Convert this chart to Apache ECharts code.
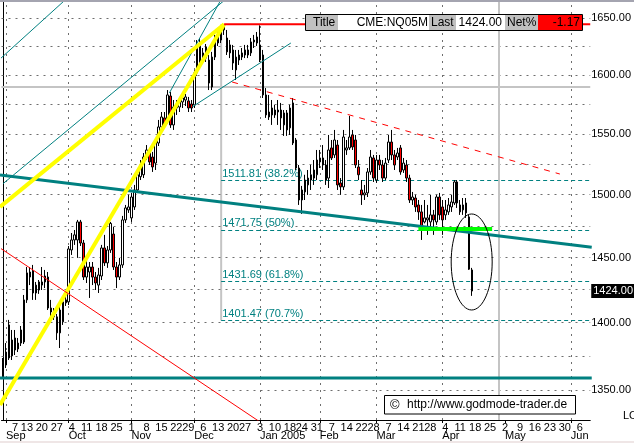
<!DOCTYPE html>
<html><head><meta charset="utf-8">
<script src="https://cdn.jsdelivr.net/npm/echarts@6/dist/echarts.min.js"></script>
<style>html,body{margin:0;padding:0;background:#fff;overflow:hidden}#c{width:634px;height:443px;background:#fff}</style>
</head><body><div id="c"></div>
<script>
const F = '"Liberation Sans", Arial, sans-serif';
// ---- calendar ----
const firstDay = '2004-08-31';
const holidays = ['2004-09-06','2004-11-25','2004-12-24','2005-01-17','2005-02-21','2005-03-25'];
const totalSlots = 197;
// ---- tick labels ----
const weekLabelDates = ['2004-09-07','2004-09-13','2004-09-20','2004-09-27','2004-10-04','2004-10-11','2004-10-18','2004-10-25','2004-11-01','2004-11-08','2004-11-15','2004-11-22','2004-11-29','2004-12-06','2004-12-13','2004-12-20','2004-12-27','2005-01-03','2005-01-10','2005-01-18','2005-01-24','2005-01-31','2005-02-07','2005-02-14','2005-02-22','2005-02-28','2005-03-07','2005-03-14','2005-03-21','2005-03-28','2005-04-04','2005-04-11','2005-04-18','2005-04-25','2005-05-02','2005-05-09','2005-05-16','2005-05-23','2005-05-30','2005-06-06'];
const monthLabelDates = ['2004-09-01','2004-10-01','2004-11-01','2004-12-01','2005-01-03','2005-02-01','2005-03-01','2005-04-01','2005-05-02','2005-06-01'];
const monthLabelTexts = ['Sep','Oct','Nov','Dec','Jan 2005','Feb','Mar','Apr','May','Jun'];
const monthGridDates = ['2004-09-01','2004-10-01','2004-11-01','2004-12-01','2005-01-03','2005-02-01','2005-03-01','2005-04-01','2005-06-01'];
const yLabelValues = [1350,1400,1450,1500,1550,1600,1650];
const yGridValues = [1350,1375,1400,1425,1450,1475,1500,1525,1550,1575,1600,1625,1650];
const yMin = 1328.3, yMax = 1664.3;
// ---- OHLC (Aug 31 2004 .. Apr 15 2005) ----
const opens = [1366.8,1368.3,1373.5,1386.9,1379.4,1384.6,1384.6,1385.4,1417.2,1434.8,
1439.5,1422.5,1424.8,1428.6,1431.0,1434.8,1408.0,1408.0,1404.3,1392.2,
1400.5,1414.9,1415.7,1455.9,1463.8,1463.8,1478.1,1461.4,1434.8,1438.7,
1442.6,1434.8,1428.6,1435.6,1457.5,1445.8,1455.9,1468.5,1442.6,1434.8,
1444.2,1479.7,1487.7,1481.3,1490.1,1503.8,1514.6,1516.2,1530.8,1534.1,
1530.8,1525.8,1542.4,1555.8,1563.4,1561.7,1582.0,1557.5,1571.8,1572.6,
1576.9,1578.6,1577.8,1575.2,1574.4,1601.8,1627.9,1613.0,1614.7,1613.0,
1589.7,1615.6,1627.9,1630.5,1639.4,1632.3,1626.2,1621.8,1604.4,1613.0,
1615.6,1617.4,1621.8,1619.2,1628.8,1627.9,1626.2,1617.4,1582.9,1568.4,
1565.9,1570.1,1568.4,1570.1,1557.5,1567.6,1555.0,1576.1,1544.9,1521.7,
1495.7,1502.2,1507.9,1511.9,1513.5,1516.2,1526.7,1530.0,1524.2,1513.5,
1538.3,1532.5,1540.7,1509.5,1506.3,1536.6,1538.3,1549.1,1544.9,1522.6,
1503.8,1499.8,1501.4,1518.5,1530.0,1511.9,1528.3,1524.2,1513.5,1528.3,
1543.2,1532.5,1530.8,1538.3,1520.1,1524.2,1513.5,1495.7,1497.3,1491.7,
1486.1,1478.1,1479.7,1478.1,1483.7,1478.1,1498.1,1490.1,1483.7,1486.1,
1490.1,1493.3,1510.3,1491.7,1487.7,1493.3,1482.1,1440.3];
const closes = [1369.8,1377.9,1398.2,1375.0,1388.4,1380.2,1394.4,1417.2,1438.0,1438.7,
1422.5,1428.6,1431.0,1431.0,1435.6,1411.0,1411.0,1404.3,1392.2,1409.5,
1415.7,1417.2,1456.7,1463.8,1467.8,1478.1,1461.4,1434.8,1442.6,1442.6,
1434.8,1430.2,1436.4,1457.5,1445.8,1455.9,1476.9,1442.6,1434.8,1444.2,
1479.7,1489.3,1490.1,1498.1,1503.8,1516.2,1524.2,1530.8,1536.6,1526.7,
1522.6,1544.9,1555.8,1564.2,1557.5,1582.9,1557.5,1572.6,1573.5,1578.6,
1580.3,1581.2,1571.8,1571.8,1601.8,1626.2,1610.4,1619.2,1624.4,1593.1,
1615.6,1630.5,1636.7,1641.2,1643.8,1620.1,1619.2,1610.4,1615.6,1617.4,
1619.2,1621.8,1617.4,1628.8,1630.5,1633.2,1613.0,1582.9,1565.9,1564.2,
1571.8,1565.9,1570.1,1563.4,1567.6,1553.3,1571.8,1542.4,1521.7,1495.7,
1503.8,1511.9,1513.5,1516.2,1520.1,1528.3,1530.0,1524.2,1511.9,1536.6,
1530.0,1544.9,1507.9,1506.3,1547.4,1538.3,1547.4,1539.1,1524.2,1516.2,
1499.8,1501.4,1518.5,1530.8,1513.5,1528.3,1524.2,1513.5,1525.8,1543.2,
1532.5,1524.2,1534.1,1518.5,1525.8,1513.5,1495.7,1498.1,1490.1,1486.1,
1474.1,1481.3,1481.3,1483.7,1479.7,1498.1,1483.7,1479.7,1487.7,1491.7,
1494.1,1510.3,1493.3,1486.1,1491.7,1485.3,1440.9,1424.0];
const highs = [1373.5,1384.6,1402.0,1394.4,1394.4,1388.4,1397.4,1421.0,1442.6,1442.6,
1444.2,1431.0,1432.5,1442.6,1440.3,1438.7,1417.2,1411.0,1406.5,1413.3,
1418.7,1422.5,1459.0,1469.3,1471.7,1479.7,1479.7,1463.8,1449.7,1446.5,
1446.5,1438.7,1441.9,1459.9,1467.8,1459.0,1478.1,1474.1,1446.5,1449.7,
1482.9,1491.7,1499.8,1501.4,1507.9,1518.5,1528.3,1534.1,1540.7,1538.3,
1535.0,1546.6,1561.7,1568.4,1568.4,1587.1,1585.4,1578.6,1578.6,1581.2,
1585.4,1583.7,1581.2,1578.6,1604.4,1630.5,1632.3,1623.5,1627.0,1617.4,
1620.1,1635.0,1641.2,1642.0,1644.5,1639.4,1630.5,1626.2,1621.8,1621.8,
1623.5,1626.2,1626.2,1632.3,1635.0,1637.6,1643.5,1621.8,1588.8,1582.9,
1578.6,1574.4,1578.6,1576.1,1570.1,1570.1,1574.4,1580.3,1546.6,1524.2,
1507.1,1516.2,1520.1,1524.2,1528.3,1536.6,1536.6,1540.7,1528.3,1549.1,
1544.9,1553.3,1544.9,1513.5,1553.3,1544.9,1565.1,1553.3,1549.1,1528.3,
1511.9,1507.9,1521.7,1536.6,1532.5,1532.5,1532.5,1528.3,1530.0,1549.1,
1553.3,1536.6,1538.3,1540.7,1530.0,1528.3,1516.2,1502.2,1499.8,1495.7,
1491.7,1495.7,1491.7,1499.8,1487.7,1499.8,1501.4,1495.7,1495.7,1497.3,
1499.8,1511.9,1511.9,1495.7,1497.3,1497.3,1483.7,1441.9];
const lows = [1359.5,1366.1,1372.0,1372.0,1375.7,1377.9,1382.4,1383.9,1414.9,1428.6,
1417.2,1417.2,1421.8,1424.8,1426.3,1409.5,1405.0,1402.0,1386.9,1380.9,
1398.2,1412.6,1413.3,1452.0,1459.9,1449.7,1459.0,1432.5,1430.2,1418.7,
1428.6,1424.8,1422.5,1432.5,1443.4,1441.9,1453.6,1440.3,1426.3,1432.5,
1441.9,1477.3,1485.3,1478.1,1487.7,1501.4,1511.9,1513.5,1528.3,1524.2,
1518.5,1520.1,1539.9,1553.3,1555.0,1558.3,1555.0,1553.3,1565.9,1568.4,
1571.8,1573.5,1568.4,1568.4,1571.8,1599.2,1607.8,1609.5,1611.3,1587.1,
1587.1,1613.0,1625.3,1627.9,1635.0,1617.4,1614.7,1604.4,1595.7,1608.7,
1613.0,1614.7,1614.7,1616.5,1623.5,1625.3,1611.3,1580.3,1563.4,1561.7,
1557.5,1563.4,1557.5,1553.3,1548.3,1548.3,1549.1,1540.7,1520.1,1491.7,
1484.5,1495.7,1499.8,1503.8,1507.9,1511.9,1521.7,1520.1,1507.9,1505.4,
1528.3,1530.0,1503.8,1499.8,1503.8,1532.5,1536.6,1536.6,1521.7,1511.9,
1491.7,1495.7,1498.1,1516.2,1510.3,1509.5,1520.1,1510.3,1511.9,1525.8,
1528.3,1520.1,1528.3,1516.2,1517.7,1510.3,1493.3,1491.7,1486.1,1479.7,
1463.8,1476.9,1467.8,1473.3,1467.8,1475.7,1479.7,1467.8,1479.7,1483.7,
1486.1,1491.7,1489.3,1483.7,1483.7,1481.3,1440.3,1420.3];
// ---- header values ----
const symbol = 'CME:NQ05M';
const lastPrice = 1424.00;
const netPct = -1.17;
// ---- drawn studies, in (slot index, price) ----
const fibStart = 73, fibEnd = 196.5, fibHigh = 1644.5;
const fibLevels = [1511.81, 1471.75, 1431.69, 1401.47];
const fibTexts = ['1511.81 (38.2%)','1471.75 (50%)','1431.69 (61.8%)','1401.47 (70.7%)'];
const crossPrice = 1589.7, crossSlot = 166;
const ellipseCenter = [156.83, 1446.5];
const trendLines = [
  {pts:[[-1,1358.8],[197,1358.8]], color:'#008080', width:3},
  {pts:[[-1,1516.0],[197,1458.1]], color:'#008080', width:3},
  {pts:[[-1,1613.9],[25,1676.4]], color:'#008080', width:1},
  {pts:[[0,1508.9],[74,1665.6]], color:'#008080', width:1},
  {pts:[[55.67,1584.6],[74,1671.5]], color:'#008080', width:1},
  {pts:[[63.33,1572.7],[96.33,1627.9]], color:'#008080', width:1},
  {pts:[[-1,1490.1],[74,1644.5]], color:'#ffff00', width:4},
  {pts:[[-1,1339.1],[74,1644.5]], color:'#ffff00', width:4},
  {pts:[[-1,1457.5],[89,1322.6]], color:'#ff0000', width:1},
  {pts:[[76.67,1594.0],[186.33,1516.8]], color:'#ff0000', width:1, type:[6,6]},
  {pts:[[74,1644.5],[196.5,1644.5]], color:'#ff0000', width:2},
  {pts:[[139,1472.5],[163.67,1472.5]], color:'#00ff00', width:4, top:true}
];

function buildCategories(){
  const out=[]; const p=firstDay.split('-').map(Number);
  const d=new Date(Date.UTC(p[0],p[1]-1,p[2]));
  while(out.length<totalSlots){
    const dow=d.getUTCDay(); const s=d.toISOString().slice(0,10);
    if(dow!==0&&dow!==6&&holidays.indexOf(s)<0) out.push(s);
    d.setUTCDate(d.getUTCDate()+1);
  }
  return out;
}
const cats = buildCategories();
const weekSet = new Set(weekLabelDates.map(d=>cats.indexOf(d)));
const monthSet = new Set(monthLabelDates.map(d=>cats.indexOf(d)));
const monthMap = {}; monthLabelDates.forEach((d,i)=>monthMap[d]=monthLabelTexts[i]);
const candleData = opens.map((o,i)=>[o, closes[i], lows[i], highs[i]]);
const slotMin = -0.5, slotMax = totalSlots - 0.5;

const dotLine = {color:'#6e6e6e', type:[2,5], width:1};
const crossLine = {color:'#c4c4c4', type:'solid', width:2};
const series = [];
// dotted grid + crosshair
series.push({type:'line', xAxisIndex:0, yAxisIndex:0, data:[], z:2, silent:true,
  markLine:{silent:true, symbol:'none', animation:false, label:{show:false},
    lineStyle:crossLine,
    data:[
      ...yGridValues.map(v=>({yAxis:v, lineStyle:dotLine})),
      ...monthGridDates.map(d=>({xAxis:d, lineStyle:dotLine})),
      {yAxis:crossPrice, lineStyle:crossLine},
      {xAxis:cats[crossSlot], lineStyle:crossLine}
    ]}});
// fib vertical + levels
series.push({type:'line', xAxisIndex:2, yAxisIndex:0, z:3, silent:true, symbol:'none',
  data:[[fibStart,fibHigh],[fibStart,fibLevels[fibLevels.length-1]]],
  lineStyle:{color:'#c4c4c4', width:2}});
series.push({type:'line', xAxisIndex:2, yAxisIndex:0, data:[], z:3, silent:true,
  markLine:{silent:true, symbol:'none', animation:false,
    lineStyle:{color:'#008080', type:[4,3], width:1},
    label:{show:true, position:'insideStartTop', color:'#008080', fontSize:11, fontFamily:F, distance:[1,1]},
    data:fibLevels.map((v,i)=>[{coord:[fibStart,v], label:{formatter:fibTexts[i]}},{coord:[fibEnd,v]}])}});
// candles
series.push({type:'candlestick', xAxisIndex:0, yAxisIndex:0, z:5, data:candleData, barWidth:2,
  itemStyle:{color:'#ffffff', color0:'#ff0000', borderColor:'#000', borderColor0:'#000', borderWidth:1},
  markLine:{silent:true, symbol:'none', animation:false, lineStyle:{color:'transparent', width:1},
    label:{show:true, position:'end', formatter:lastPrice.toFixed(2), backgroundColor:'#000', color:'#fff',
      fontSize:11, fontFamily:F, padding:[2,2,1,2], distance:1},
    data:[{yAxis:lastPrice}]}});
// trend lines
trendLines.forEach(t=>{
  series.push({type:'line', xAxisIndex:2, yAxisIndex:0, z:t.top?8:6, silent:true, symbol:'none', clip:true,
    data:t.pts, lineStyle:{color:t.color, width:t.width, type:t.type||'solid'}});
});

const chart = echarts.init(document.getElementById('c'), null, {renderer:'canvas'});
chart.setOption({
  animation:false,
  grid:{left:1.5, right:41.5, top:2, bottom:23, containLabel:false},
  xAxis:[
    {type:'category', data:cats, boundaryGap:true,
      axisLine:{show:true, lineStyle:{color:'#000', width:1}}, axisTick:{show:false}, splitLine:{show:false},
      axisLabel:{interval:(i)=>weekSet.has(i), showMinLabel:true, showMaxLabel:true, hideOverlap:false,
        formatter:(v,i)=>weekSet.has(i)?String(Number(v.slice(8))):'', color:'#000', fontSize:11, fontFamily:F, margin:2}},
    {type:'category', data:cats, boundaryGap:true, position:'bottom',
      axisLine:{show:false}, splitLine:{show:false},
      axisTick:{show:true, alignWithLabel:true, interval:(i)=>monthSet.has(i), length:3, lineStyle:{color:'#000'}},
      axisLabel:{interval:(i)=>monthSet.has(i), showMinLabel:true, showMaxLabel:true, hideOverlap:false,
        formatter:(v)=>monthMap[v]||'', align:'left', color:'#000', fontSize:11, fontFamily:F, margin:10}},
    {type:'value', min:slotMin, max:slotMax, show:false}
  ],
  yAxis:{type:'log', logBase:10, min:yMin, max:yMax, position:'right',
    axisLine:{show:true, lineStyle:{color:'#000', width:1}}, axisTick:{show:false}, splitLine:{show:false},
    axisLabel:{customValues:yLabelValues, formatter:(v)=>Number(v).toFixed(2), color:'#000', fontSize:11, fontFamily:F, margin:1}},
  series:series
});

const ec = chart.convertToPixel({xAxisIndex:2, yAxisIndex:0}, ellipseCenter);
const tf = '12px ' + F;
chart.setOption({graphic:[
  {type:'rect', shape:{x:0,y:0,width:634,height:2}, style:{fill:'#a4a4b0'}, z:100},
  {type:'rect', shape:{x:0,y:441,width:634,height:2}, style:{fill:'#efe6e6'}, z:100},
  {type:'ellipse', shape:{cx:ec[0], cy:ec[1], rx:20.5, ry:48}, style:{fill:null, stroke:'#000', lineWidth:1}, z:100},
  {type:'rect', shape:{x:305.5,y:14.5,width:277,height:16}, style:{fill:'#fff', stroke:'#000', lineWidth:1}, z:100},
  {type:'rect', shape:{x:306,y:15,width:32,height:15}, style:{fill:'#c0c0c0'}, z:101},
  {type:'rect', shape:{x:429,y:15,width:27,height:15}, style:{fill:'#c0c0c0'}, z:101},
  {type:'rect', shape:{x:505,y:15,width:33,height:15}, style:{fill:'#c0c0c0'}, z:101},
  {type:'rect', shape:{x:538,y:15,width:44,height:15}, style:{fill:'#ff0000'}, z:101},
  {type:'text', x:313, y:23, style:{text:'Title', font:tf, fill:'#000', textAlign:'left', textVerticalAlign:'middle'}, z:102},
  {type:'text', x:428, y:23, style:{text:symbol, font:tf, fill:'#000', textAlign:'right', textVerticalAlign:'middle'}, z:102},
  {type:'text', x:431, y:23, style:{text:'Last', font:tf, fill:'#000', textAlign:'left', textVerticalAlign:'middle'}, z:102},
  {type:'text', x:502, y:23, style:{text:lastPrice.toFixed(2), font:tf, fill:'#000', textAlign:'right', textVerticalAlign:'middle'}, z:102},
  {type:'text', x:507, y:23, style:{text:'Net%', font:tf, fill:'#000', textAlign:'left', textVerticalAlign:'middle'}, z:102},
  {type:'text', x:580, y:23, style:{text:netPct.toFixed(2), font:tf, fill:'#000', textAlign:'right', textVerticalAlign:'middle'}, z:102},
  {type:'rect', shape:{x:384.5,y:395.5,width:191,height:18.5}, style:{fill:'#fff', stroke:'#000', lineWidth:1}, z:100},
  {type:'text', x:390, y:405, style:{text:'\u00a9', font:'13px '+F, fill:'#000', textAlign:'left', textVerticalAlign:'middle'}, z:102},
  {type:'text', x:407, y:405, style:{text:'http://www.godmode-trader.de', font:tf, fill:'#000', textAlign:'left', textVerticalAlign:'middle'}, z:102},
  {type:'text', x:623, y:416, style:{text:'LOG', font:'11px '+F, fill:'#000', textAlign:'left', textVerticalAlign:'middle'}, z:102}
]});
</script></body></html>
